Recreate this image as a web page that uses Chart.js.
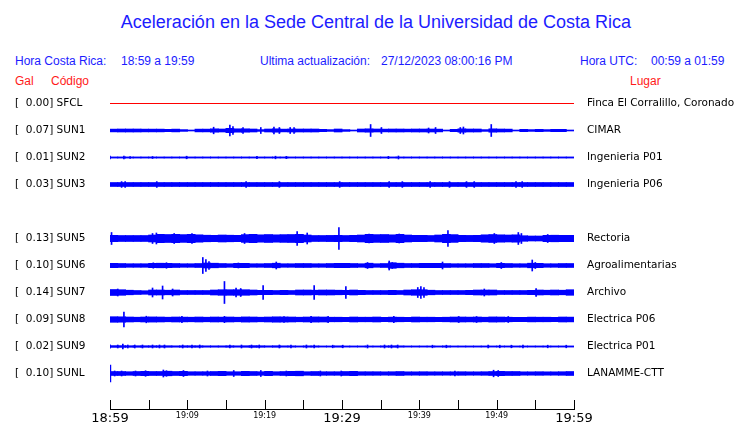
<!DOCTYPE html>
<html>
<head>
<meta charset="utf-8">
<script src="https://cdn.jsdelivr.net/npm/chart.js@4/dist/chart.umd.min.js"></script>
<style>
  body { margin: 0; background: #fff; width: 740px; height: 423px; overflow: hidden; position: relative;
         font-family: "Liberation Sans", Arial, sans-serif; }
  .t { position: absolute; white-space: pre; color: #1c1cff; font-size: 12px; line-height: 14px; }
  .r { color: #ff1a1a; }
  #title { position: absolute; left: 0; width: 752px; top: 11px; text-align: center;
           font-size: 18px; line-height: 22px; color: #1c1cff; }
  canvas { position: absolute; left: 0; top: 0; }
</style>
</head>
<body>
<div id="title">Aceleración en la Sede Central de la Universidad de Costa Rica</div>
<div class="t" style="left:15px;top:54px">Hora Costa Rica:</div>
<div class="t" style="left:121px;top:54px">18:59 a 19:59</div>
<div class="t" style="left:260px;top:54px">Ultima actualización:</div>
<div class="t" style="left:381px;top:54px">27/12/2023 08:00:16 PM</div>
<div class="t" style="left:580px;top:54px">Hora UTC:</div>
<div class="t" style="left:651px;top:54px">00:59 a 01:59</div>
<div class="t r" style="left:15px;top:74px">Gal</div>
<div class="t r" style="left:51px;top:74px">Código</div>
<div class="t r" style="left:630px;top:74px">Lugar</div>
<canvas id="chart" width="740" height="423"></canvas>
<script>
// stations (SUN4 has no data in this window)
const codes = ['SFCL', 'SUN1', 'SUN2', 'SUN3', 'SUN4', 'SUN5', 'SUN6', 'SUN7', 'SUN8', 'SUN9', 'SUNL'];
const places = ['Finca El Corralillo, Coronado', 'CIMAR', 'Ingenieria P01', 'Ingenieria P06', '',
                'Rectoria', 'Agroalimentarias', 'Archivo', 'Electrica P06', 'Electrica P01', 'LANAMME-CTT'];
const peakGal = [0.00, 0.07, 0.01, 0.03, null, 0.13, 0.10, 0.14, 0.09, 0.02, 0.10];

// x axis: minutes after 18:59, a tick every 5 min
const timeTicks = ['18:59', '', '19:09', '', '19:19', '', '19:29', '', '19:39', '', '19:49', '', '19:59'];

// trace envelope per minute (half height, screen units) and isolated peaks [minute, half height]
const envSFCL = [0,0,0,0,0,0,0,0,0,0, 0,0,0,0,0,0,0,0,0,0, 0,0,0,0,0,0,0,0,0,0, 0,0,0,0,0,0,0,0,0,0, 0,0,0,0,0,0,0,0,0,0, 0,0,0,0,0,0,0,0,0,0];
const envSUN1 = [1.4,1.5,1.5,1.5,1.4,1.4,1.4,1.2,1.4,0.9, 0.5,1.4,1.4,1.7,1.5,2.2,1.7,1.7,1.5,0.9, 1.5,1.7,1.4,1.5,1.5,1.5,1.5,1.2,0.9,1.5,
                 0.9,0.5,1.5,1.7,1.5,1.4,1.5,1.5,1.4,1.5, 1.5,1.5,1.4,0.5,1.2,1.7,1.5,1.5,0.9,1.7, 1.5,1.4,0.5,1.2,0.9,1.2,0.9,1.2,1.2,0.5];
const envSUN2 = [0.6,0.6,0.6,0.6,0.6,0.6,0.6,0.6,0.6,0.6, 0.6,0.6,0.6,0.6,0.6,0.6,0.6,0.6,0.6,0.6, 0.6,0.6,0.6,0.6,0.6,0.6,0.6,0.6,0.6,0.6,
                 0.6,0.6,0.6,0.6,0.6,0.6,0.6,0.6,0.6,0.6, 0.6,0.6,0.6,0.6,0.6,0.6,0.6,0.6,0.6,0.6, 0.6,0.6,0.6,0.6,0.6,0.6,0.6,0.6,0.6,0.6];
const envSUN3 = [2.0,2.0,2.0,2.0,2.0,2.0,2.0,2.0,2.0,2.0, 2.0,2.0,2.0,2.0,2.0,2.0,2.0,2.0,2.0,2.0, 2.0,2.0,2.0,2.0,2.0,2.0,2.0,2.0,2.0,2.0,
                 2.0,2.0,2.0,2.0,2.0,2.0,2.0,2.0,2.0,2.0, 2.0,2.0,2.0,2.0,2.0,2.0,2.0,2.0,2.0,2.0, 2.0,2.0,2.0,2.0,2.0,2.0,2.0,2.0,2.0,2.0];
const envSUN5 = [3.2,3.0,3.0,3.0,3.0,3.5,4.2,4.0,4.2,3.9, 4.2,3.7,3.3,3.2,3.5,3.3,3.2,3.9,4.2,3.7, 4.0,3.7,3.9,4.0,4.2,3.5,3.0,3.0,3.1,3.2,
                 3.0,3.2,3.5,4.2,3.9,4.0,3.7,4.2,3.5,3.2, 3.2,3.0,3.5,4.2,3.9,3.2,3.1,3.2,3.7,4.0, 3.7,3.5,3.7,2.8,2.5,2.5,3.2,3.3,3.2,3.2];
const envSUN6 = [2.2,2.0,1.8,1.8,1.8,2.2,2.3,2.2,2.0,1.8, 1.8,2.0,2.5,2.3,2.0,1.8,2.2,2.2,1.8,1.8, 2.0,2.3,1.8,1.8,2.0,2.0,1.8,1.8,2.0,2.2,
                 2.2,2.0,1.8,2.3,1.8,2.0,2.8,2.3,2.0,2.0, 2.2,2.2,2.2,2.0,1.8,1.8,1.8,2.0,2.0,1.8, 2.2,2.0,1.8,1.8,2.3,2.2,1.8,1.8,2.0,2.0];
const envSUN7 = [3.0,2.8,2.3,2.0,1.8,2.5,2.5,2.3,2.5,2.0, 2.0,2.0,2.0,2.5,2.8,2.8,2.8,2.8,2.5,2.2, 2.2,2.0,2.2,2.0,2.5,2.5,2.3,2.5,2.5,2.3,
                 2.2,2.5,2.2,2.0,2.0,2.0,2.2,2.0,2.5,2.8, 2.8,2.3,2.0,2.0,2.0,2.0,2.2,2.5,2.5,2.5, 2.0,2.0,2.0,2.0,2.2,2.5,2.3,2.5,2.3,2.8];
const envSUN8 = [2.8,2.7,2.5,2.3,2.5,2.6,2.5,2.3,2.5,2.4, 2.3,2.5,2.3,2.5,2.4,2.5,2.3,2.6,2.5,2.3, 2.5,2.7,2.6,2.5,2.3,2.5,2.6,2.5,2.3,2.3,
                 2.2,2.5,2.3,2.3,2.5,2.2,2.4,2.3,2.2,2.5, 2.3,2.3,2.2,2.3,2.5,2.5,2.4,2.5,2.3,2.6, 2.5,2.3,2.2,2.2,2.4,2.3,2.3,2.2,2.5,2.4];
const envSUN9 = [0.9,0.9,0.8,0.8,0.8,0.8,0.8,0.8,0.7,0.8, 0.8,0.8,0.7,0.7,0.7,0.8,0.7,0.8,0.9,0.8, 0.7,0.8,0.7,0.7,0.6,0.7,0.7,0.6,0.6,0.7,
                 0.6,0.6,0.6,0.6,0.6,0.7,0.8,0.7,0.6,0.6, 0.6,0.6,0.6,0.7,0.6,0.6,0.6,0.6,0.6,0.6, 0.6,0.6,0.6,0.6,0.6,0.6,0.6,0.6,0.6,0.6];
const envSUNL = [2.0,2.0,1.8,2.0,2.2,2.0,2.0,2.3,2.0,2.2, 1.8,1.8,1.8,2.0,2.2,1.8,1.8,2.2,2.0,1.8, 2.2,1.8,2.0,2.2,2.3,1.8,2.0,1.8,1.8,1.8,
                 2.0,2.2,1.8,1.8,1.8,1.7,1.8,2.0,1.7,1.7, 1.8,1.7,1.7,1.7,1.7,1.8,1.7,1.7,1.8,2.0, 2.2,2.0,2.0,1.7,1.7,1.8,1.7,1.7,1.8,2.0];

const peaksSUN1 = [[13.4,3.3],[15.5,5.5],[15.9,4],[17.2,3],[19.5,3],[21.2,3.5],[21.9,3],[23.3,3],[23.8,3],
                   [33.7,6],[35.1,3],[41.2,2.5],[42.1,3],[45.3,3],[45.7,3.5],[49.3,6]];
const peaksSUN2 = [[0,1.5],[1.8,1.5],[2.6,1],[5.5,1],[9.9,1.3],[19,1.2],[21.4,1.3],[22.8,1.2],[36,1.2],[37.3,1.5]];
const peaksSUN3 = [[1.5,2.9],[1.96,2.9],[6.05,2.9],[17.6,2.9],[21.9,2.9],[29.7,2.9],[36.1,2.9],[37.8,2.9],
                   [41.4,2.9],[43.9,2.9],[46.1,2.9],[47.1,2.9],[52.5,2.9],[53.3,2.9]];
const peaksSUN5 = [[0.2,6],[5.5,5],[6.0,5.5],[8.3,5],[10.6,5],[17.4,5],[24.2,7],[25.5,5.5],[29.6,11],
                   [33.5,4.5],[37.4,4.5],[43.7,8],[49.7,5],[52.8,6],[53.2,5],[56.6,4]];
const peaksSUN6 = [[12.0,8],[12.4,6],[12.8,4],[5.6,2.7],[7.3,2.8],[16.6,2.5],[21.5,3.5],[33.3,3],[36.1,4.5],
                   [36.5,3],[43,3.5],[50.6,3],[54.6,5.5],[55,3]];
const peaksSUN7 = [[1.0,3.5],[5.5,4.5],[6.8,6.5],[8.1,3.5],[14.8,11],[16.3,4.5],[16.9,4],[19.8,7],[26.4,7],
                   [30.5,6],[39.8,5],[40.2,6],[40.6,5],[48.4,3.5],[55.1,4]];
const peaksSUN8 = [[1.8,7.5],[4.7,3.3],[9.3,3.2],[14.8,3.2],[22.5,3],[26,3.2],[28.2,3.2],[36.7,3.2],[45.1,3],[47.4,3],[51.5,3]];
const peaksSUN9 = [[0,1.7],[1.0,1.5],[1.66,2.5],[2.3,1.5],[3.2,1.5],[4.2,1.5],[5.5,1.5],[6.4,1.5],[7.05,1.5],[9.4,1.5],
                   [10.6,1.5],[11.6,1.5],[15.5,1.5],[17.0,1.5],[18.3,1.5],[19.3,1.5],[21.9,1.5],[23.4,1.5],[25.4,1.5],
                   [26.4,1.5],[28.8,1.3],[30.1,1.3],[33.3,1.5],[35.5,1.5],[36.4,1.5],[37.2,1.5],[41.7,1.3],[43.5,1.3],
                   [48.9,1.3],[50.4,1.3],[51.9,1.3],[53.4,1.5],[56.6,1.3],[59.0,1.3]];
const peaksSUNL = [[0.05,8.3],[0.6,2.5],[1.5,2.5],[3.3,2.5],[4.6,2.8],[6.9,3.5],[7.3,2.8],[9.5,3],[12.6,2.5],
                   [16,3],[19.5,3],[22.8,2.5],[27.2,2.5],[29.9,2.5],[44.6,2.5],[49.6,3.3],[50.2,3]];

const envelopes = [envSFCL, envSUN1, envSUN2, envSUN3, null, envSUN5, envSUN6, envSUN7, envSUN8, envSUN9, envSUNL];
const peaks = [[], peaksSUN1, peaksSUN2, peaksSUN3, null, peaksSUN5, peaksSUN6, peaksSUN7, peaksSUN8, peaksSUN9, peaksSUNL];

// layout: 1 y unit = 1 px, rows 27 px apart
const ROW = 27;
const Y_MAX = 319;
const rowCenter = k => 305.5 - ROW * k;

const rows = codes.map((c, k) => k).filter(k => peakGal[k] !== null);
const leftLabels = rows.map(k => '[  ' + peakGal[k].toFixed(2) + '] ' + codes[k]);
const rightLabels = rows.map(k => places[k]);

const datasets = [];
rows.forEach(k => {
    const c = rowCenter(k);
    const col = k === 0 ? '#ff0000' : '#0000ff';
    datasets.push({
        type: 'line',
        data: [{ x: 0, y: c }, { x: 60, y: c }],
        borderColor: col, borderWidth: 1, pointRadius: 0, order: 0
    });
    if (envelopes[k].some(a => a > 0)) {
        datasets.push({
            type: 'bar',
            data: envelopes[k].map((a, i) => ({ x: i + 0.5, y: [c - a, c + a] })),
            backgroundColor: col, barThickness: 8, grouped: false, order: 1
        });
    }
    datasets.push({
        type: 'bar',
        data: peaks[k].map(([t, a]) => ({ x: t, y: [c - a, c + a] })),
        backgroundColor: col, barThickness: 1, grouped: false, order: 1
    });
});

// short tick marks standing up from the time axis
const upTicks = {
    id: 'upTicks',
    afterDraw(chart) {
        const sx = chart.scales.x;
        const ctx = chart.ctx;
        ctx.save();
        ctx.strokeStyle = '#000';
        ctx.lineWidth = 1;
        sx.ticks.forEach(t => {
            const px = Math.round(sx.getPixelForValue(t.value)) + 0.5;
            ctx.beginPath();
            ctx.moveTo(px, sx.top);
            ctx.lineTo(px, sx.top - 9);
            ctx.stroke();
        });
        ctx.restore();
    }
};

const rowTicks = scale => { scale.ticks = rows.map(k => ({ value: rowCenter(k) })); };
const noPad = w => s => { s.width = w; s.paddingTop = 0; s.paddingBottom = 0; };

new Chart(document.getElementById('chart'), {
    type: 'bar',
    data: { datasets },
    options: {
        responsive: false,
        animation: false,
        devicePixelRatio: 1,
        layout: { padding: { left: 15, top: 90, right: 0, bottom: 0 } },
        plugins: { legend: { display: false }, tooltip: { enabled: false } },
        scales: {
            x: {
                type: 'linear', min: 0, max: 60, offset: false,
                grid: { display: false, drawTicks: false },
                border: { display: true, color: '#000', width: 1 },
                afterFit: s => { s.height = 14; s.paddingLeft = 0; s.paddingRight = 0; },
                ticks: {
                    stepSize: 5, autoSkip: false, maxRotation: 0, padding: 2, color: '#000',
                    callback: (v, i) => timeTicks[i],
                    font: ctx => ({ family: 'DejaVu Sans', size: (ctx.index % 6 === 0) ? 13 : 8 })
                }
            },
            y: {
                type: 'linear', position: 'left', min: 0, max: Y_MAX,
                grid: { display: false, drawTicks: false },
                border: { display: false },
                afterBuildTicks: rowTicks,
                afterFit: noPad(95),
                ticks: {
                    autoSkip: false, crossAlign: 'far', color: '#000',
                    font: { family: 'DejaVu Sans', size: 10.5 },
                    callback: (v, i) => leftLabels[i]
                }
            },
            y2: {
                type: 'linear', position: 'right', min: 0, max: Y_MAX,
                grid: { display: false, drawTicks: false },
                border: { display: false },
                afterBuildTicks: rowTicks,
                afterFit: noPad(166),
                ticks: {
                    autoSkip: false, crossAlign: 'near', padding: 13, color: '#000',
                    font: { family: 'DejaVu Sans', size: 10.5 },
                    callback: (v, i) => rightLabels[i]
                }
            }
        }
    },
    plugins: [upTicks]
});
</script>
</body>
</html>
